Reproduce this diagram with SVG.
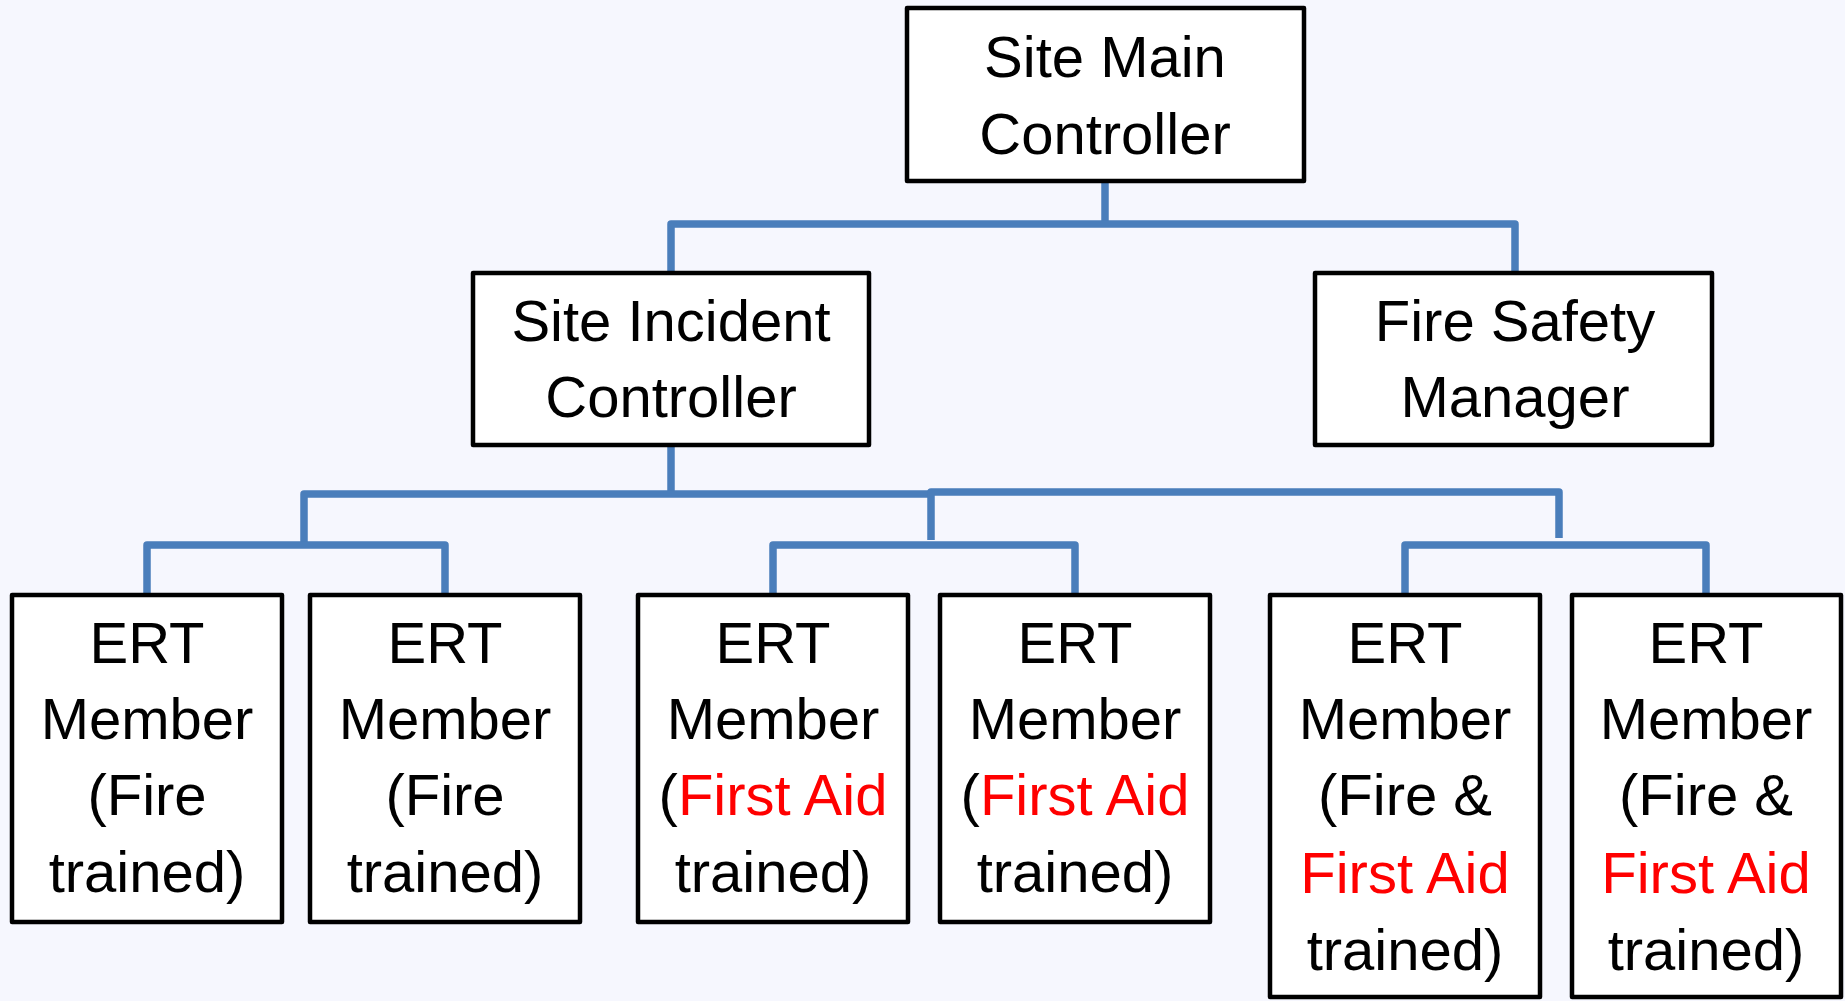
<svg xmlns="http://www.w3.org/2000/svg" width="1845" height="1001" viewBox="0 0 1845 1001">
<style>
.bg{fill:#F6F7FE}
.box{fill:#FFFFFF;stroke:#000000;stroke-width:4.5;stroke-linejoin:round}
.lbl{font-family:"Liberation Sans",Arial,sans-serif;font-size:58px;fill:#000000;text-anchor:middle}
.red{fill:#FF0000}
.conn{fill:none;stroke:#4A7EBB;stroke-width:7.5;stroke-linejoin:round}
</style>
<rect class="bg" x="0" y="0" width="1845" height="1001"/>
<g id="connectors">
<path class="conn" d="M1105,183 V224"/>
<path class="conn" d="M671,272 V224 H1515 V272"/>
<path class="conn" d="M671,447 V494"/>
<path class="conn" d="M304,545 V494 H931"/>
<path class="conn" d="M931,540 V492 H1559 V538"/>
<path class="conn" d="M147,594 V545 H445 V594"/>
<path class="conn" d="M773,594 V545 H1075 V594"/>
<path class="conn" d="M1405,594 V545 H1706 V594"/>
</g>
<g id="site-main-controller">
<rect class="box" x="907" y="8" width="397" height="173"/>
<text class="lbl" x="1105" y="77">Site Main</text>
<text class="lbl" x="1105" y="154">Controller</text>
</g>
<g id="site-incident-controller">
<rect class="box" x="473" y="273" width="396" height="172"/>
<text class="lbl" x="671" y="341">Site Incident</text>
<text class="lbl" x="671" y="417">Controller</text>
</g>
<g id="fire-safety-manager">
<rect class="box" x="1315" y="273" width="397" height="172"/>
<text class="lbl" x="1515" y="341">Fire Safety</text>
<text class="lbl" x="1515" y="417">Manager</text>
</g>
<g id="ert-1">
<rect class="box" x="12" y="595" width="270" height="327"/>
<text class="lbl" x="147" y="663">ERT</text>
<text class="lbl" x="147" y="739">Member</text>
<text class="lbl" x="147" y="815">(Fire</text>
<text class="lbl" x="147" y="892">trained)</text>
</g>
<g id="ert-2">
<rect class="box" x="310" y="595" width="270" height="327"/>
<text class="lbl" x="445" y="663">ERT</text>
<text class="lbl" x="445" y="739">Member</text>
<text class="lbl" x="445" y="815">(Fire</text>
<text class="lbl" x="445" y="892">trained)</text>
</g>
<g id="ert-3">
<rect class="box" x="638" y="595" width="270" height="327"/>
<text class="lbl" x="773" y="663">ERT</text>
<text class="lbl" x="773" y="739">Member</text>
<text class="lbl" x="773" y="815">(<tspan class="red">First Aid</tspan></text>
<text class="lbl" x="773" y="892">trained)</text>
</g>
<g id="ert-4">
<rect class="box" x="940" y="595" width="270" height="327"/>
<text class="lbl" x="1075" y="663">ERT</text>
<text class="lbl" x="1075" y="739">Member</text>
<text class="lbl" x="1075" y="815">(<tspan class="red">First Aid</tspan></text>
<text class="lbl" x="1075" y="892">trained)</text>
</g>
<g id="ert-5">
<rect class="box" x="1270" y="595" width="270" height="402"/>
<text class="lbl" x="1405" y="663">ERT</text>
<text class="lbl" x="1405" y="739">Member</text>
<text class="lbl" x="1405" y="815">(Fire &amp;</text>
<text class="lbl red" x="1405" y="893">First Aid</text>
<text class="lbl" x="1405" y="970">trained)</text>
</g>
<g id="ert-6">
<rect class="box" x="1572" y="595" width="269" height="402"/>
<text class="lbl" x="1706" y="663">ERT</text>
<text class="lbl" x="1706" y="739">Member</text>
<text class="lbl" x="1706" y="815">(Fire &amp;</text>
<text class="lbl red" x="1706" y="893">First Aid</text>
<text class="lbl" x="1706" y="970">trained)</text>
</g>
</svg>
